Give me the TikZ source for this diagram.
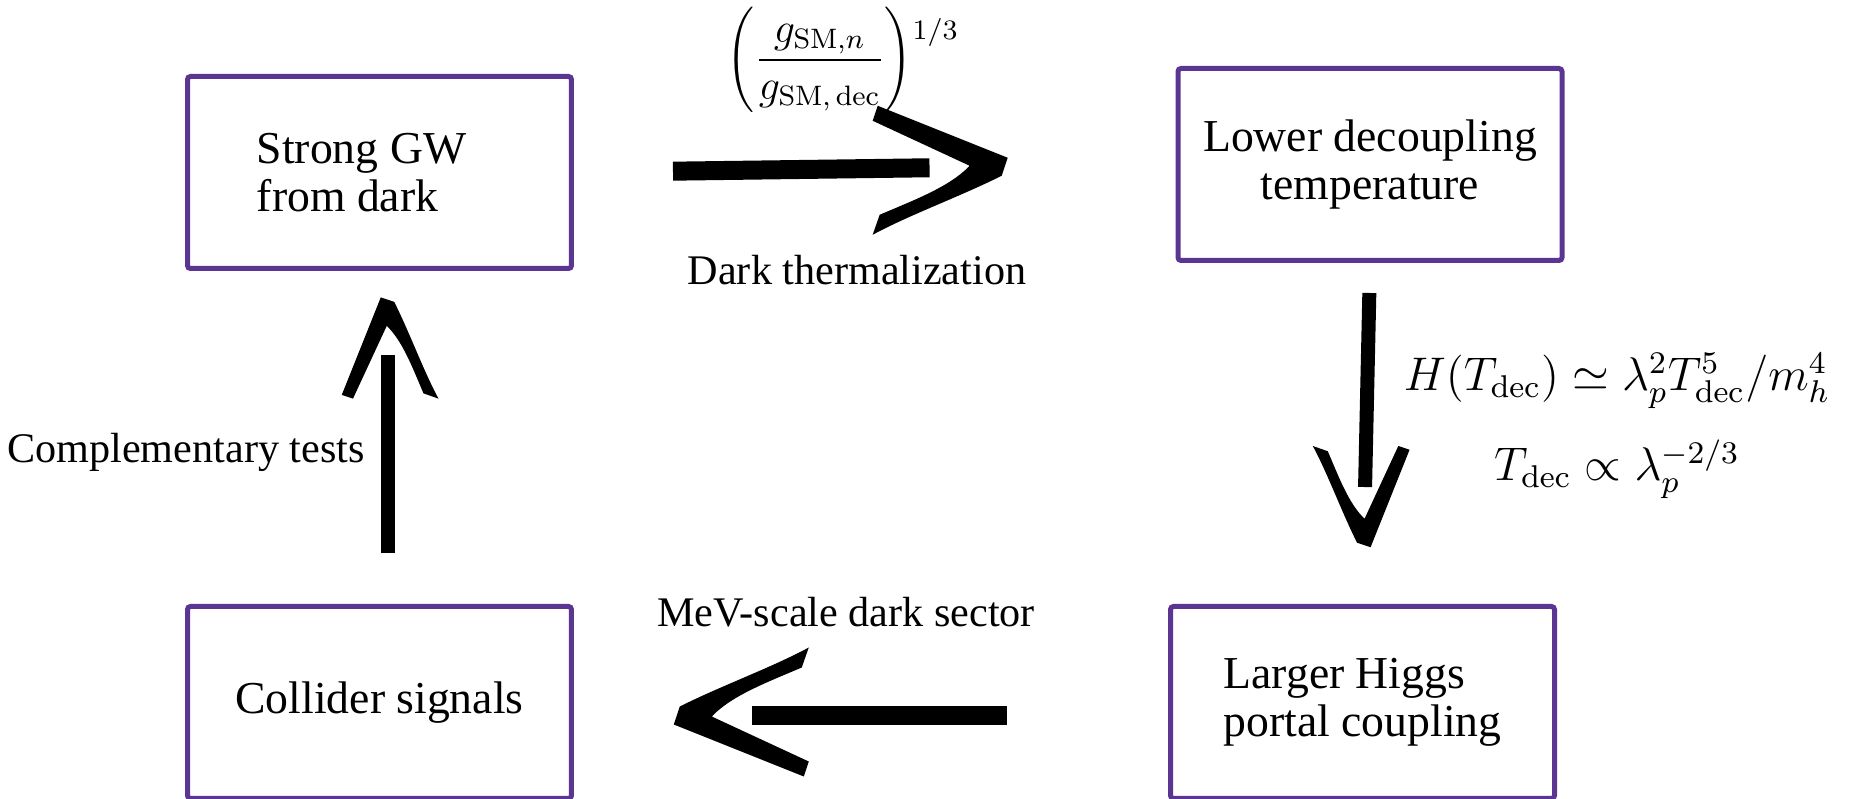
\documentclass[tikz,border=0pt]{standalone}
\usepackage[no-math]{fontspec}
\setmainfont{Liberation Serif}
\usetikzlibrary{positioning,calc}

\definecolor{boxpurple}{RGB}{90,53,146}

\tikzset{
	box/.style={draw=boxpurple, line width=0.5mm, rounded corners=0.3mm, minimum width=38.4mm, minimum height=19.2mm, inner sep=0pt, font=\fontsize{13}{13.6}\selectfont},
	shaft/.style={line width=1.9mm},
	thinshaft/.style={line width=1.4mm},
	barb/.pic={
		\fill (-127,61) -- (3,9) -- (-3,-9)
			.. controls (-45,-30) and (-95,-48) .. (-132,-68)
			-- (-125,-48)
			.. controls (-90,-33) and (-55,-20) .. (-35,1)
			-- (-132,46) -- cycle;
	}
}

\begin{document}
\begin{tikzpicture}[x=0.1mm, y=0.1mm, font=\fontsize{12}{14}\selectfont]
	\useasboundingbox (0,0) rectangle (1850,-799);
	
	\node[box, align=left] (gw) at (379.5,-172.5) {Strong GW\kern3.6mm\\from dark};
	\node[box, align=center] (dec) at (1370,-164.5) {Lower decoupling\\temperature};
	\node[box] (col) at (379.5,-702.5) {Collider signals};
	\node[box, align=left] (hig) at (1362.5,-702.5) {Larger Higgs\\portal coupling};
	
	\draw[shaft, shorten <=9.9mm, shorten >=24.6mm] (gw.east) -- (dec.west);
	\pic at ($(gw.east)!0.716!(dec.west)$) {barb};
	
	\draw[thinshaft, shorten <=3mm, shorten >=11.7mm] (dec.south) -- (hig.north);
	\pic[rotate=-90, scale=0.75] at ($(dec.south)!0.827!(hig.north)$) {barb};
	
	\coordinate (hw) at ([yshift=-1.3mm]hig.west);
	\coordinate (ce) at ([yshift=-1.3mm]col.east);
	\draw[shaft, shorten <=16.1mm, shorten >=17.8mm] (hw) -- (ce);
	\pic[rotate=180] at ($(hw)!0.827!(ce)$) {barb};
	
	\coordinate (cn) at ([xshift=0.8mm]col.north);
	\coordinate (gs) at ([xshift=0.8mm]gw.south);
	\draw[thinshaft, shorten <=5.1mm, shorten >=8.4mm] (cn) -- (gs);
	\pic[rotate=90, scale=0.75] at ($(cn)!0.914!(gs)$) {barb};
	
	\node (ratio) at (843,-60) {$\displaystyle\left(\frac{g_{\mathrm{SM},n}}{g_{\mathrm{SM},\,\mathrm{dec}}}\right)^{\smash{\raisebox{-6pt}{$\scriptstyle 1/3$}}}$};
	\node (therm) at (857,-270) {Dark thermalization};
	\node[align=center, scale=1.12] (hrel) at (1617,-426) {$H(T_{\mathrm{dec}}) \simeq \lambda_p^2 T_{\mathrm{dec}}^5/m_h^4$\\[7pt]$T_{\mathrm{dec}} \propto \lambda_p^{-2/3}$};
	\node (mev) at (846,-612) {MeV-scale dark sector};
	\node (tests) at (186,-452) {Complementary tests};
\end{tikzpicture}
\end{document}
